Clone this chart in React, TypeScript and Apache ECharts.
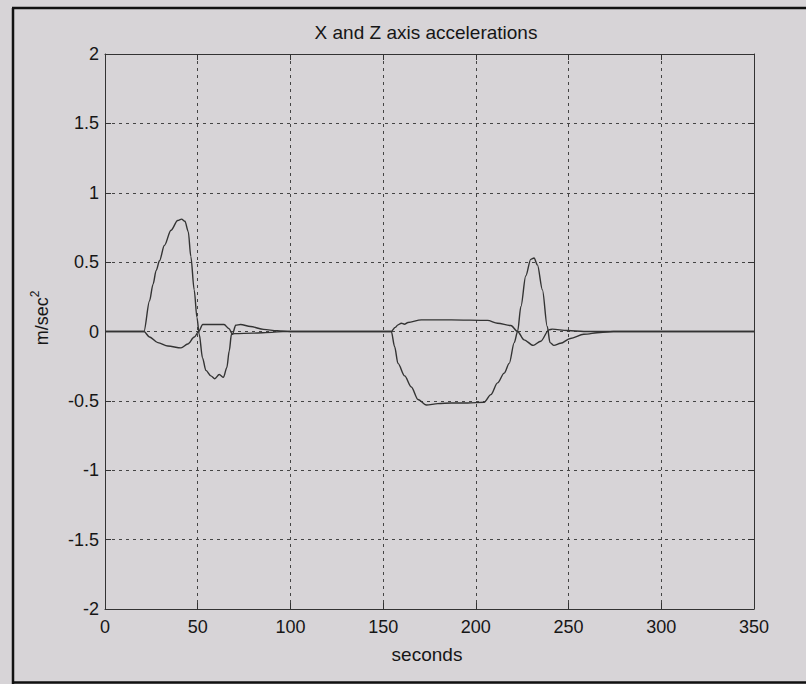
import React, { useEffect, useRef } from "react";
import * as echarts from "echarts";

const titleText = "X and Z axis accelerations";
const xAxisLabel = "seconds";

const xTicks = { min: 0, max: 350, interval: 50 };
const yTicks = { min: -2, max: 2, interval: 0.5 };

// X-axis acceleration (large positive peak first)
const timesX = [0, 21, 24, 25.9, 27.6, 29.4, 32, 35.6, 39.2, 41.3, 43.1, 44.9, 46.3, 48.1, 49.6, 50.8, 52.6, 54.4, 57.1, 59.2, 61.6, 63.9, 65.7, 67, 68.2, 70, 80, 90, 96, 154.4, 156.2, 158, 161.6, 165.2, 168.8, 173.3, 179.5, 186.7, 195.6, 204.5, 208.1, 211.7, 215.3, 218, 220.7, 222.5, 224.3, 226.9, 229.6, 231.4, 233.2, 235.9, 238.5, 240, 242.1, 245.7, 251, 258.2, 267.1, 274.2, 350];
const valuesX = [0, 0, 0.22, 0.34, 0.44, 0.51, 0.62, 0.73, 0.8, 0.81, 0.795, 0.72, 0.54, 0.3, 0.1, -0.02, -0.19, -0.28, -0.32, -0.34, -0.31, -0.33, -0.26, -0.14, -0.02, -0.015, -0.012, -0.006, 0, 0, -0.11, -0.23, -0.32, -0.4, -0.49, -0.53, -0.52, -0.515, -0.515, -0.51, -0.455, -0.37, -0.3, -0.23, -0.08, 0, 0.18, 0.4, 0.52, 0.53, 0.48, 0.3, 0.036, -0.08, -0.1, -0.085, -0.05, -0.02, -0.007, 0, 0];

// Z-axis acceleration (small counter-motion)
const timesZ = [0, 21, 24, 28.5, 33.9, 41, 44.6, 48.2, 50.5, 52.7, 59, 64.2, 66.9, 68.7, 70.5, 73.1, 78.5, 85.6, 92.8, 100, 154.4, 156.5, 158, 159.8, 161.5, 163.4, 170.6, 186.7, 206.3, 211.7, 218.9, 222.5, 226, 230.9, 235, 239.4, 241.2, 249.3, 258.2, 350];
const valuesZ = [0, 0, -0.04, -0.08, -0.105, -0.118, -0.09, -0.04, 0, 0.05, 0.05, 0.05, 0.02, -0.02, 0.045, 0.05, 0.036, 0.015, 0.005, 0, 0, 0.03, 0.048, 0.06, 0.052, 0.065, 0.084, 0.084, 0.08, 0.06, 0.043, 0, -0.06, -0.1, -0.07, 0.012, 0.017, 0.007, 0, 0];

const FONT = "'Liberation Sans', Arial, Helvetica, sans-serif";
const INK = "#161616";
const BG = "#d7d4d7";

export default function App() {
  const ref = useRef<HTMLDivElement>(null);

  useEffect(() => {
    if (!ref.current) return;
    const chart = echarts.init(ref.current, null, { renderer: "svg" });

    const dataX = timesX.map((t, i) => [t, valuesX[i]]);
    const dataZ = timesZ.map((t, i) => [t, valuesZ[i]]);

    const lineAxis = { show: true, lineStyle: { color: "#333", width: 1 } };
    const tickStyle = { show: true, inside: true, length: 6, lineStyle: { color: "#333", width: 1 } };
    const gridLine = { show: true, lineStyle: { color: "#444", width: 1, type: [3, 4] as any } };

    chart.setOption({
      animation: false,
      backgroundColor: BG,
      grid: { left: 105, top: 54, right: 52, bottom: 75, containLabel: false },
      xAxis: [
        {
          type: "value",
          min: xTicks.min,
          max: xTicks.max,
          interval: xTicks.interval,
          position: "bottom",
          axisLine: { ...lineAxis, onZero: false },
          axisTick: tickStyle,
          axisLabel: { show: true, margin: 9, fontSize: 18, color: INK, fontFamily: FONT },
          splitLine: gridLine,
        },
        {
          type: "value",
          min: xTicks.min,
          max: xTicks.max,
          interval: xTicks.interval,
          position: "top",
          axisLine: { ...lineAxis, onZero: false },
          axisTick: tickStyle,
          axisLabel: { show: false },
          splitLine: { show: false },
        },
      ],
      yAxis: [
        {
          type: "value",
          min: yTicks.min,
          max: yTicks.max,
          interval: yTicks.interval,
          position: "left",
          axisLine: { ...lineAxis, onZero: false },
          axisTick: tickStyle,
          axisLabel: { show: true, margin: 6, fontSize: 18, color: INK, fontFamily: FONT },
          splitLine: gridLine,
        },
        {
          type: "value",
          min: yTicks.min,
          max: yTicks.max,
          interval: yTicks.interval,
          position: "right",
          axisLine: { ...lineAxis, onZero: false },
          axisTick: tickStyle,
          axisLabel: { show: false },
          splitLine: { show: false },
        },
      ],
      series: [
        {
          name: "X",
          type: "line",
          data: dataX,
          showSymbol: false,
          smooth: 0.3,
          smoothMonotone: "x",
          lineStyle: { color: "#333", width: 1.4 },
          z: 3,
        },
        {
          name: "Z",
          type: "line",
          data: dataZ,
          showSymbol: false,
          smooth: 0.3,
          smoothMonotone: "x",
          lineStyle: { color: "#333", width: 1.4 },
          z: 3,
        },
      ],
      graphic: [
        { type: "line", shape: { x1: 13, y1: 8, x2: 13, y2: 684 }, style: { stroke: "#111", lineWidth: 2.5 } },
        { type: "line", shape: { x1: 12, y1: 8, x2: 806, y2: 8 }, style: { stroke: "#111", lineWidth: 2.5 } },
        { type: "line", shape: { x1: 12, y1: 682.5, x2: 806, y2: 682.5 }, style: { stroke: "#111", lineWidth: 2.5 } },
        {
          type: "text",
          x: 426,
          y: 32,
          style: { text: titleText, fontSize: 19, fontFamily: FONT, fill: INK, align: "center", verticalAlign: "middle" },
        },
        {
          type: "text",
          x: 427,
          y: 654,
          style: { text: xAxisLabel, fontSize: 19, fontFamily: FONT, fill: INK, align: "center", verticalAlign: "middle" },
        },
        {
          type: "text",
          x: 40,
          y: 318,
          rotation: Math.PI / 2,
          style: {
            text: "{a|m/sec}{b|2}",
            align: "center",
            verticalAlign: "middle",
            fill: INK,
            rich: {
              a: { fontSize: 18, fontFamily: FONT, fill: INK, lineHeight: 22, verticalAlign: "bottom" },
              b: { fontSize: 12, fontFamily: FONT, fill: INK, lineHeight: 22, verticalAlign: "top" },
            },
          },
        },
      ],
    });

    return () => chart.dispose();
  }, []);

  return (
    <div
      ref={ref}
      style={{ position: "absolute", left: 0, top: 0, width: 806, height: 684, background: BG }}
    />
  );
}
